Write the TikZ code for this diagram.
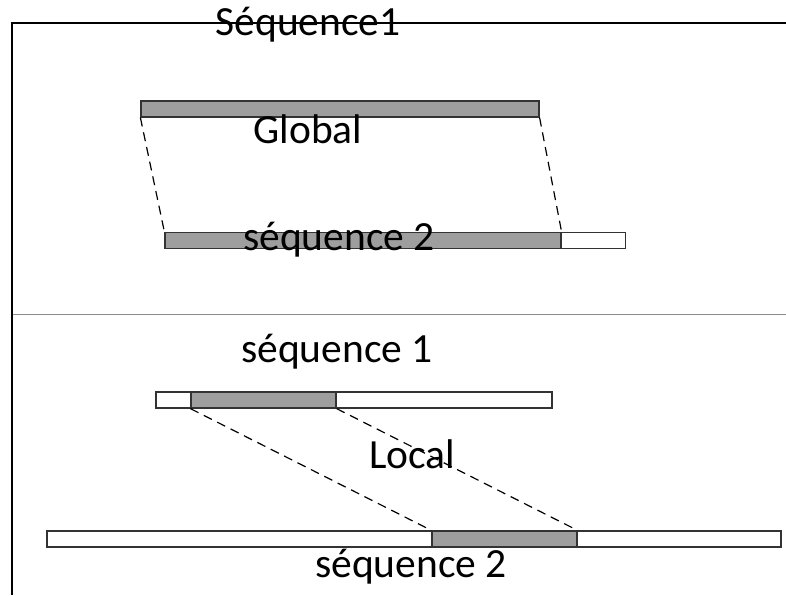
\documentclass[tikz,border=0pt]{standalone}
\usepackage{fontspec}
\setmainfont{Carlito}
\begin{document}
\begin{tikzpicture}[x=1pt,y=-1pt,
  bar/.style={draw=black!80, line width=1.2pt, fill=#1, inner sep=0pt, minimum height=16pt},
  bar/.default=white,
  lbl/.style={inner sep=0pt, anchor=base, font=\fontsize{41.5}{48}\selectfont},
  link/.style={line width=1.2pt, dash pattern=on 9pt off 6pt},
  frame/.style={line width=2.6pt, black}]
\useasboundingbox (0,0) rectangle (786,595);
\fill[white] (0,0) rectangle (786,595);
% frame
\coordinate (ftl) at (12,23);
\coordinate (ftr) at (786,23);
\coordinate (fbl) at (12,595);
\coordinate (ml) at (12,314);
\coordinate (mr) at (786,314);
\draw[line width=1pt, black!45] (ml) -- (mr);
\draw[frame] (fbl) -- (ftl) -- (ftr);
\node[lbl] (title) at (308,35) {Séquence1};
% global
\node[bar=black!38, minimum width=398pt] (g1) at (340,109) {};
\node[bar, minimum width=460pt] (g2full) at (395.5,240.5) {};
\node[bar=black!38, minimum width=396pt] (g2) at (363,240.5) {};
\draw[link] (g1.south west) -- (g2.north west);
\draw[link] (g1.south east) -- (g2.north east);
\node[lbl] (glob) at (308,143) {Global};
\node[lbl] (gs2) at (339,250) {séquence 2};
% local
\node[lbl] (ls1) at (337,362) {séquence 1};
\node[bar, minimum width=396pt] (l1full) at (354,400) {};
\node[bar=black!38, minimum width=145pt] (l1) at (263.5,400) {};
\node[bar, minimum width=734pt] (l2full) at (414,539) {};
\node[bar=black!38, minimum width=145pt] (l2) at (504.5,539) {};
\draw[link] (l1.south west) -- (l2.north west);
\draw[link] (l1.south east) -- (l2.north east);
\node[lbl] (loc) at (412,468) {Local};
\node[lbl] (ls2) at (411,577) {séquence 2};
\end{tikzpicture}
\end{document}
